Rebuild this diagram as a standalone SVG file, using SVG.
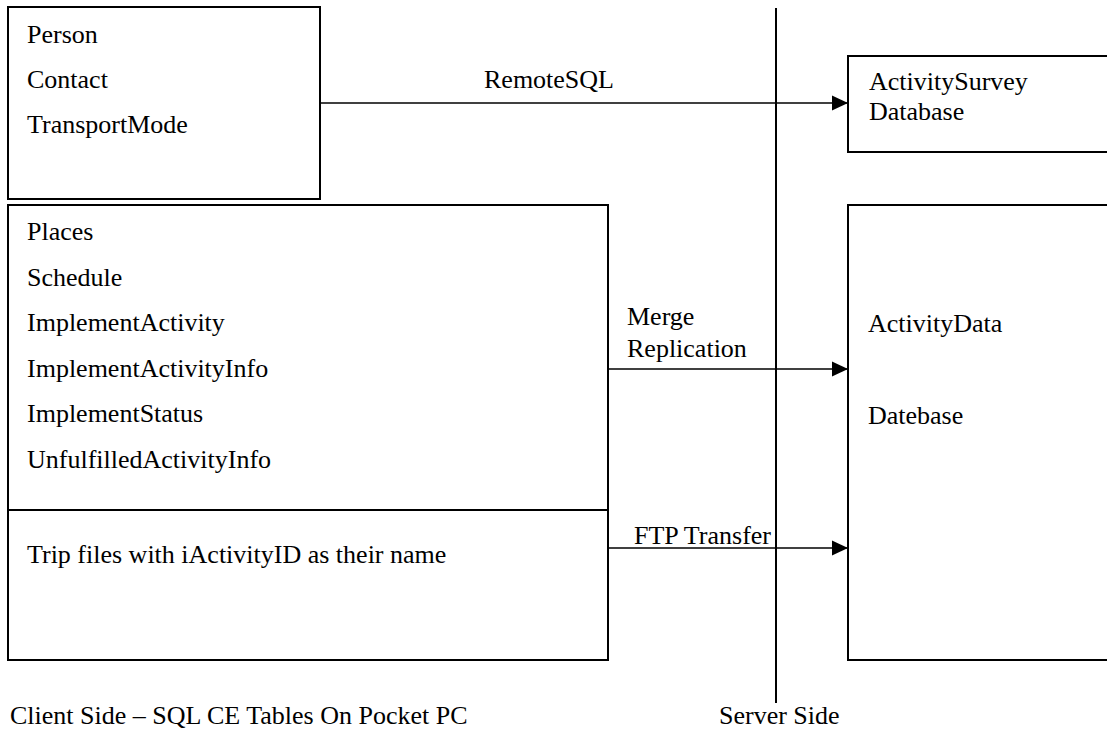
<svg xmlns="http://www.w3.org/2000/svg" width="1107" height="732" viewBox="0 0 1107 732">
<style>
.box{fill:#fff;stroke:#000;stroke-width:2}
.t{font-family:'Liberation Serif',serif;font-size:26px;fill:#000}
.c{stroke:#000;stroke-width:1.6;fill:none}
</style>
<defs>
<marker id="ah" markerUnits="userSpaceOnUse" markerWidth="16" markerHeight="16" refX="16" refY="8" orient="auto">
<path d="M0,0.5 L16,8 L0,15.5 Z" fill="#000"/>
</marker>
</defs>
<rect width="1107" height="732" fill="#fff"/>
<g id="client-box-1">
<rect class="box" x="8" y="7" width="312" height="192"/>
<text class="t" x="27" y="43">Person</text>
<text class="t" x="27" y="88">Contact</text>
<text class="t" x="27" y="133">TransportMode</text>
</g>
<g id="client-box-2">
<rect class="box" x="8" y="205" width="600" height="455"/>
<line class="box" x1="8" y1="510" x2="608" y2="510"/>
<text class="t" x="27" y="240">Places</text>
<text class="t" x="27" y="286">Schedule</text>
<text class="t" x="27" y="331">ImplementActivity</text>
<text class="t" x="27" y="377">ImplementActivityInfo</text>
<text class="t" x="27" y="422">ImplementStatus</text>
<text class="t" x="27" y="468">UnfulfilledActivityInfo</text>
<text class="t" x="27" y="563">Trip files with iActivityID as their name</text>
</g>
<g id="survey-db">
<rect class="box" x="848" y="56" width="270" height="96"/>
<text class="t" x="869" y="90">ActivitySurvey</text>
<text class="t" x="869" y="120">Database</text>
</g>
<g id="activity-db">
<rect class="box" x="848" y="205" width="270" height="455"/>
<text class="t" x="868" y="332">ActivityData</text>
<text class="t" x="868" y="424">Datebase</text>
</g>
<g id="divider">
<line x1="776" y1="8" x2="776" y2="703" stroke="#000" stroke-width="2"/>
</g>
<g id="connectors">
<line class="c" x1="320" y1="103" x2="848" y2="103" marker-end="url(#ah)"/>
<line class="c" x1="608" y1="369" x2="848" y2="369" marker-end="url(#ah)"/>
<line class="c" x1="608" y1="548" x2="848" y2="548" marker-end="url(#ah)"/>
</g>
<g id="labels">
<text class="t" x="549" y="88" text-anchor="middle">RemoteSQL</text>
<text class="t" x="627" y="325">Merge</text>
<text class="t" x="627" y="357">Replication</text>
<text class="t" x="634" y="544">FTP Transfer</text>
<text class="t" x="10" y="724">Client Side – SQL CE Tables On Pocket PC</text>
<text class="t" x="719" y="724">Server Side</text>
</g>
</svg>
